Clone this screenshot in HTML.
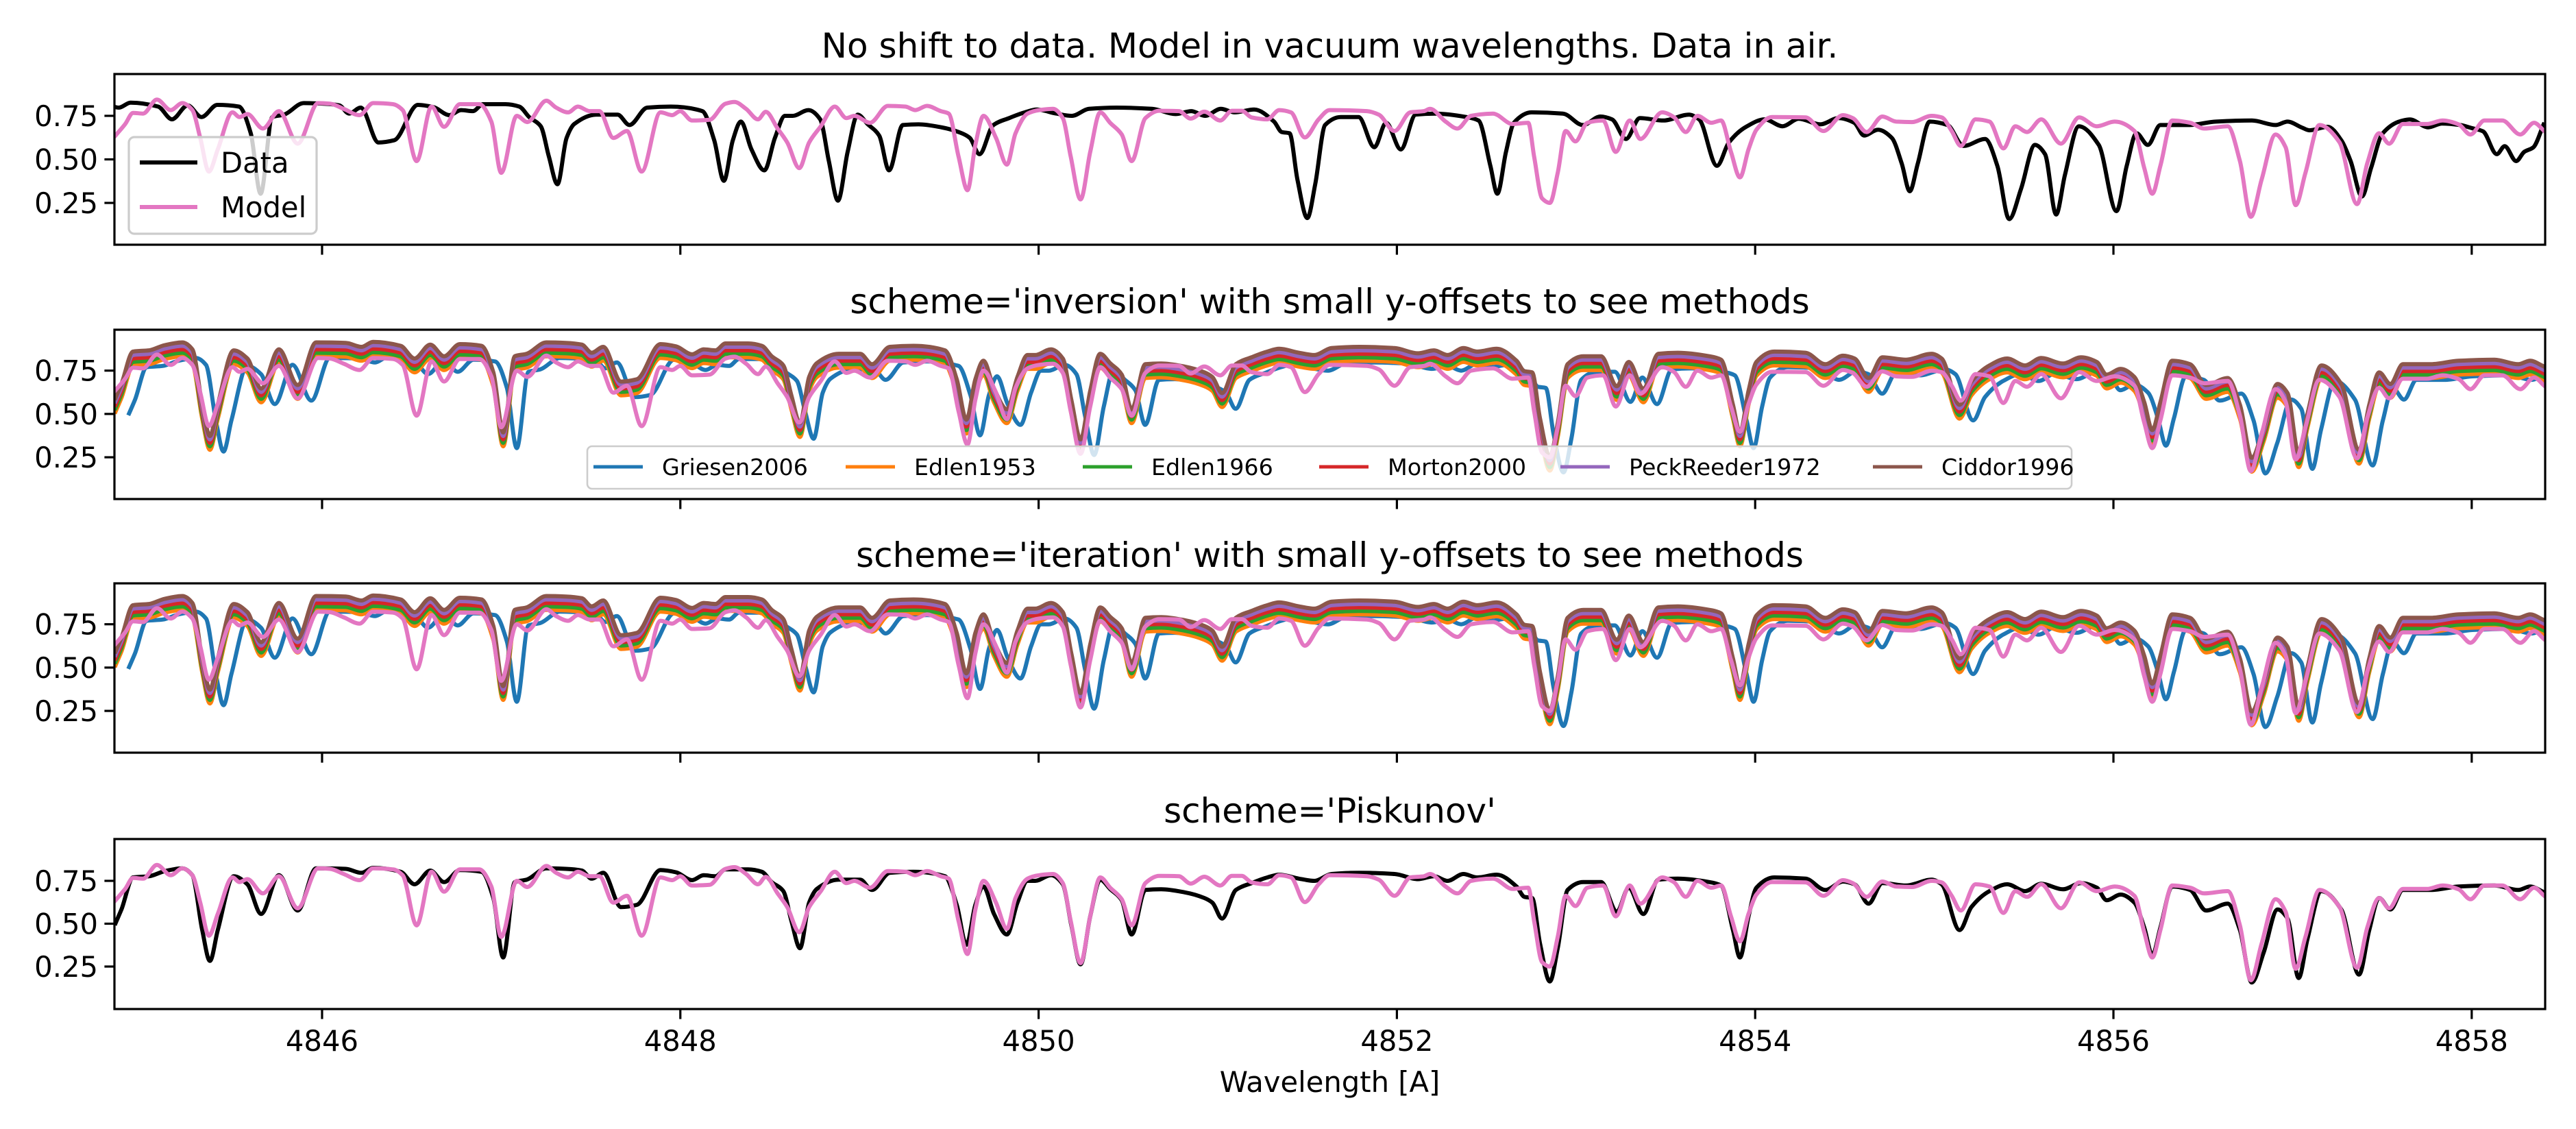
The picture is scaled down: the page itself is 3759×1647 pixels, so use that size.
<!DOCTYPE html>
<html><head><meta charset="utf-8"><title>Air/vacuum wavelength schemes</title>
<style>html,body{margin:0;padding:0;background:#fff}svg{display:block;font-family:"DejaVu Sans","Liberation Sans",sans-serif}</style>
</head><body>
<svg id="fig" xmlns="http://www.w3.org/2000/svg" width="3759" height="1647" viewBox="0 0 3759 1647">
<rect width="3759" height="1647" fill="#fff"/>
</svg>
<script>
// ---- data ----
const modelWave=[4844.847,4844.901,4844.945,4845.001,4845.078,4845.155,4845.220,4845.276,4845.320,4845.368,4845.418,4845.500,4845.539,4845.583,4845.670,4845.759,4845.864,4845.978,4846.044,4846.121,4846.209,4846.285,4846.396,4846.450,4846.528,4846.611,4846.681,4846.769,4846.878,4846.945,4847.000,4847.087,4847.146,4847.252,4847.307,4847.373,4847.428,4847.494,4847.548,4847.626,4847.702,4847.784,4847.889,4847.955,4847.999,4848.065,4848.163,4848.252,4848.302,4848.367,4848.433,4848.477,4848.543,4848.597,4848.664,4848.719,4848.784,4848.862,4848.927,4848.971,4849.059,4849.158,4849.257,4849.312,4849.377,4849.454,4849.498,4849.553,4849.603,4849.647,4849.692,4849.762,4849.823,4849.871,4849.938,4850.003,4850.080,4850.135,4850.179,4850.234,4850.288,4850.344,4850.399,4850.464,4850.519,4850.596,4850.673,4850.783,4850.849,4850.925,4851.014,4851.079,4851.134,4851.189,4851.277,4851.343,4851.409,4851.486,4851.563,4851.624,4851.833,4851.899,4851.987,4852.075,4852.151,4852.185,4852.272,4852.338,4852.414,4852.536,4852.646,4852.733,4852.766,4852.810,4852.854,4852.898,4852.942,4852.997,4853.063,4853.151,4853.222,4853.300,4853.359,4853.480,4853.546,4853.613,4853.678,4853.755,4853.810,4853.865,4853.915,4853.963,4854.007,4854.094,4854.281,4854.381,4854.490,4854.545,4854.622,4854.710,4854.787,4854.875,4854.985,4855.041,4855.097,4855.148,4855.230,4855.308,4855.386,4855.452,4855.518,4855.597,4855.707,4855.808,4855.907,4856.007,4856.117,4856.172,4856.217,4856.262,4856.328,4856.428,4856.506,4856.638,4856.706,4856.767,4856.827,4856.905,4856.961,4857.017,4857.072,4857.150,4857.261,4857.360,4857.417,4857.483,4857.539,4857.616,4857.750,4857.838,4857.927,4857.993,4858.071,4858.171,4858.271,4858.348,4858.405];
const modelFlux=[0.637,0.703,0.767,0.763,0.843,0.783,0.823,0.783,0.623,0.43,0.557,0.77,0.743,0.76,0.677,0.777,0.59,0.823,0.82,0.79,0.754,0.823,0.817,0.783,0.49,0.803,0.687,0.817,0.817,0.717,0.423,0.75,0.714,0.837,0.797,0.77,0.803,0.777,0.777,0.623,0.663,0.43,0.77,0.754,0.777,0.723,0.727,0.82,0.83,0.79,0.73,0.773,0.677,0.597,0.45,0.597,0.69,0.803,0.737,0.75,0.71,0.807,0.803,0.783,0.807,0.777,0.763,0.517,0.323,0.583,0.75,0.623,0.47,0.65,0.763,0.783,0.79,0.737,0.517,0.27,0.543,0.77,0.71,0.643,0.49,0.737,0.779,0.777,0.734,0.774,0.723,0.779,0.779,0.741,0.73,0.783,0.77,0.626,0.73,0.783,0.777,0.757,0.663,0.77,0.777,0.79,0.717,0.677,0.75,0.763,0.703,0.71,0.517,0.277,0.25,0.423,0.663,0.603,0.71,0.723,0.543,0.723,0.617,0.77,0.743,0.657,0.75,0.71,0.723,0.543,0.397,0.557,0.67,0.743,0.741,0.663,0.754,0.737,0.657,0.746,0.717,0.714,0.75,0.741,0.663,0.577,0.73,0.717,0.563,0.69,0.657,0.73,0.59,0.741,0.69,0.717,0.663,0.45,0.303,0.463,0.723,0.71,0.677,0.69,0.49,0.17,0.383,0.643,0.57,0.237,0.423,0.697,0.6,0.243,0.477,0.65,0.59,0.703,0.703,0.723,0.701,0.643,0.723,0.723,0.643,0.71,0.663];
// observed data, wavelengths as corrected by the Piskunov scheme (vacuum)
const dataWaveVac=[4844.847,4844.880,4844.945,4845.034,4845.122,4845.220,4845.276,4845.331,4845.374,4845.418,4845.507,4845.583,4845.660,4845.759,4845.864,4845.967,4846.132,4846.220,4846.285,4846.439,4846.516,4846.604,4846.681,4846.769,4846.890,4846.956,4847.011,4847.076,4847.142,4847.252,4847.361,4847.450,4847.505,4847.570,4847.669,4847.757,4847.889,4847.976,4848.065,4848.130,4848.196,4848.252,4848.378,4848.455,4848.510,4848.575,4848.620,4848.668,4848.719,4848.762,4848.884,4849.004,4849.070,4849.169,4849.301,4849.477,4849.543,4849.597,4849.647,4849.692,4849.751,4849.823,4849.882,4849.938,4849.981,4850.069,4850.135,4850.183,4850.234,4850.288,4850.344,4850.399,4850.464,4850.519,4850.596,4850.684,4850.816,4850.925,4850.970,4851.024,4851.101,4851.189,4851.277,4851.343,4851.453,4851.540,4851.635,4851.789,4851.987,4852.118,4852.207,4852.283,4852.371,4852.448,4852.557,4852.668,4852.711,4852.755,4852.799,4852.854,4852.898,4852.953,4853.041,4853.140,4853.228,4853.294,4853.376,4853.459,4853.568,4853.744,4853.810,4853.876,4853.915,4853.963,4854.007,4854.106,4854.281,4854.392,4854.490,4854.555,4854.633,4854.710,4854.842,4854.985,4855.041,4855.141,4855.207,4855.308,4855.407,4855.507,4855.597,4855.718,4855.819,4855.907,4855.962,4856.040,4856.117,4856.172,4856.217,4856.262,4856.328,4856.428,4856.517,4856.638,4856.706,4856.772,4856.838,4856.916,4856.972,4857.034,4857.083,4857.161,4857.272,4857.371,4857.428,4857.483,4857.546,4857.616,4857.772,4857.927,4858.127,4858.260,4858.326,4858.405];
const dataFluxVac=[0.503,0.583,0.77,0.777,0.807,0.823,0.783,0.463,0.283,0.463,0.777,0.73,0.557,0.783,0.577,0.823,0.82,0.797,0.826,0.803,0.73,0.81,0.743,0.813,0.803,0.65,0.303,0.743,0.757,0.823,0.82,0.81,0.763,0.797,0.597,0.61,0.813,0.8,0.754,0.783,0.777,0.817,0.817,0.803,0.743,0.69,0.517,0.357,0.623,0.703,0.757,0.757,0.697,0.797,0.803,0.777,0.61,0.377,0.61,0.717,0.557,0.437,0.623,0.75,0.75,0.783,0.73,0.49,0.263,0.543,0.757,0.703,0.637,0.437,0.697,0.701,0.683,0.65,0.623,0.53,0.697,0.737,0.77,0.786,0.763,0.75,0.79,0.797,0.79,0.76,0.777,0.75,0.79,0.77,0.786,0.717,0.657,0.65,0.383,0.163,0.357,0.697,0.743,0.743,0.57,0.71,0.557,0.757,0.763,0.743,0.723,0.463,0.303,0.543,0.71,0.77,0.763,0.697,0.746,0.73,0.617,0.737,0.723,0.757,0.73,0.463,0.597,0.69,0.73,0.69,0.733,0.701,0.737,0.71,0.637,0.67,0.623,0.477,0.317,0.477,0.717,0.697,0.577,0.617,0.463,0.157,0.33,0.583,0.53,0.183,0.41,0.69,0.583,0.203,0.463,0.65,0.583,0.697,0.697,0.717,0.723,0.697,0.717,0.683];
// extra data seen only in the top (air) panel
const dataTailAir=[4857.094,4857.196,4857.273,4857.324,4857.387,4857.438,4857.502,4857.604,4857.655,4857.757,4857.834,4857.936,4857.999,4858.063,4858.140,4858.184,4858.248,4858.293,4858.344,4858.401];
const dataTailFlux=[0.667,0.687,0.608,0.49,0.287,0.45,0.648,0.72,0.729,0.684,0.706,0.697,0.68,0.661,0.53,0.576,0.49,0.543,0.569,0.70];
const piskunovShift=1.354;
const methods=['Griesen2006','Edlen1953','Edlen1966','Morton2000','PeckReeder1972','Ciddor1996'];
const methodShift=[1.430,1.354,1.354,1.354,1.354,1.354];
const methodOffset=[0,0.01,0.03,0.05,0.07,0.09];
const methodColor=['#1f77b4','#ff7f0e','#2ca02c','#d62728','#9467bd','#8c564b'];
const xTicks=[4846,4848,4850,4852,4854,4856,4858];
const yTicks=[0.25,0.50,0.75];
const titles=["No shift to data. Model in vacuum wavelengths. Data in air.","scheme='inversion' with small y-offsets to see methods","scheme='iteration' with small y-offsets to see methods","scheme='Piskunov'"];

// ---- layout ----
const NS='http://www.w3.org/2000/svg';
const svg=document.getElementById('fig');
const X0=167,X1=3714,XMIN=4844.841,XMAX=4858.410;
const panels=[{top:108,bot:357,ymin:0.010,ymax:0.990},{top:481,bot:728,ymin:0.009,ymax:0.986},{top:851,bot:1098,ymin:0.009,ymax:0.986},{top:1224,bot:1472,ymin:0.002,ymax:0.994}];
const xs=v=>X0+(v-XMIN)/(XMAX-XMIN)*(X1-X0);
function mk(tag,attrs,parent){const e=document.createElementNS(NS,tag);for(const k in attrs)e.setAttribute(k,attrs[k]);(parent||svg).appendChild(e);return e;}
// monotone cubic (Fritsch-Carlson) path through screen points
function smoothPath(px,py){
  const n=px.length;if(n<2)return '';
  const dx=[],m=[],t=new Array(n);
  for(let i=0;i<n-1;i++){dx.push(px[i+1]-px[i]);m.push((py[i+1]-py[i])/(dx[i]||1e-6));}
  t[0]=m[0];t[n-1]=m[n-2];
  for(let i=1;i<n-1;i++){
    if(m[i-1]*m[i]<=0)t[i]=0;
    else{const w1=2*dx[i]+dx[i-1],w2=dx[i]+2*dx[i-1];t[i]=(w1+w2)/(w1/m[i-1]+w2/m[i]);}
  }
  let d='M'+px[0].toFixed(1)+','+py[0].toFixed(1);
  for(let i=0;i<n-1;i++){
    const h=dx[i]/3;
    d+='C'+(px[i]+h).toFixed(1)+','+(py[i]+t[i]*h).toFixed(1)+' '+(px[i+1]-h).toFixed(1)+','+(py[i+1]-t[i+1]*h).toFixed(1)+' '+px[i+1].toFixed(1)+','+py[i+1].toFixed(1);
  }
  return d;
}
function line(g,p,wl,fl,color,name){
  const ys=v=>p.bot-(v-p.ymin)/(p.ymax-p.ymin)*(p.bot-p.top);
  const d=smoothPath(wl.map(xs),fl.map(ys));
  const e=mk('path',{d:d,fill:'none',stroke:color,'stroke-width':6,'stroke-linejoin':'round','stroke-linecap':'square'},g);
  
  
}
const dataAirW=dataWaveVac.map(w=>w-piskunovShift).concat(dataTailAir);
const dataAirF=dataFluxVac.concat(dataTailFlux);

panels.forEach((p,pi)=>{
  const g=mk('g',{});
  
  
  const cp=mk('clipPath',{id:'clip'+pi},g);mk('rect',{x:X0,y:p.top,width:X1-X0,height:p.bot-p.top},cp);
  const ys=v=>p.bot-(v-p.ymin)/(p.ymax-p.ymin)*(p.bot-p.top);
  const t=mk('text',{x:(X0+X1)/2,y:p.top-24,'text-anchor':'middle','font-size':50,fill:'#000'},g);t.textContent=titles[pi];
  
  
  const lg=mk('g',{'clip-path':'url(#clip'+pi+')'},g);
  
  
  if(pi===0||pi===3){
    if(pi===0)line(lg,p,dataAirW,dataAirF,'#000','data-line');
    else line(lg,p,dataWaveVac,dataFluxVac,'#000','data-line');
    line(lg,p,modelWave,modelFlux,'#e377c2','model-line');
  }else{
    methods.forEach((m,mi)=>{
      const w=dataAirW.map(v=>v+methodShift[mi]);
      const f=dataAirF.map(v=>v+methodOffset[mi]);
      line(lg,p,w,f,methodColor[mi],'line-'+m.toLowerCase());
    });
    line(lg,p,modelWave,modelFlux,'#e377c2','model-line');
  }
  const fr=mk('rect',{x:X0,y:p.top,width:X1-X0,height:p.bot-p.top,fill:'none',stroke:'#000','stroke-width':3.2},g);
  
  
  yTicks.forEach(v=>{
    const y=ys(v);
    const tk=mk('line',{x1:X0-14.6,x2:X0,y1:y,y2:y,stroke:'#000','stroke-width':3.2},g);
    
    
    const tl=mk('text',{x:X0-24,y:y+15,'text-anchor':'end','font-size':41.7,fill:'#000'},g);tl.textContent=v.toFixed(2);
    
    
  });
  xTicks.forEach(v=>{
    const x=xs(v);
    const tk=mk('line',{x1:x,x2:x,y1:p.bot,y2:p.bot+14.6,stroke:'#000','stroke-width':3.2},g);
    
    
    if(pi===3){const tl=mk('text',{x:x,y:p.bot+61,'text-anchor':'middle','font-size':41.7,fill:'#000'},g);tl.textContent=String(v);
      
      }
  });
});
// x axis title
const xl=mk('text',{x:(X0+X1)/2,y:1593,'text-anchor':'middle','font-size':41.7,fill:'#000'});xl.textContent='Wavelength [A]';



// legend panel 1
const lg1=mk('g',{});


mk('rect',{x:188,y:200,width:274,height:141,rx:8,fill:'#fff','fill-opacity':0.8,stroke:'#cccccc','stroke-width':3.2},lg1);
[['Data','#000',237],['Model','#e377c2',302]].forEach(([n,c,y])=>{
  const e=mk('g',{},lg1);
  
  
  mk('line',{x1:204,x2:288,y1:y,y2:y,stroke:c,'stroke-width':6},e);
  const t=mk('text',{x:322,y:y+15,'font-size':41.7,fill:'#000'},e);t.textContent=n;
});
// legend panel 2
const lg2=mk('g',{});


mk('rect',{x:857,y:651,width:2166,height:62,rx:7,fill:'#fff','fill-opacity':0.8,stroke:'#cccccc','stroke-width':2.6},lg2);
const legX=[866,1234,1580,1925,2277,2733];
methods.forEach((m,mi)=>{
  const e=mk('g',{},lg2);
  
  
  mk('line',{x1:legX[mi],x2:legX[mi]+72,y1:681,y2:681,stroke:methodColor[mi],'stroke-width':5},e);
  const t=mk('text',{x:legX[mi]+100,y:693,'font-size':33.3,fill:'#000'},e);t.textContent=m;
});
</script>
</body></html>
